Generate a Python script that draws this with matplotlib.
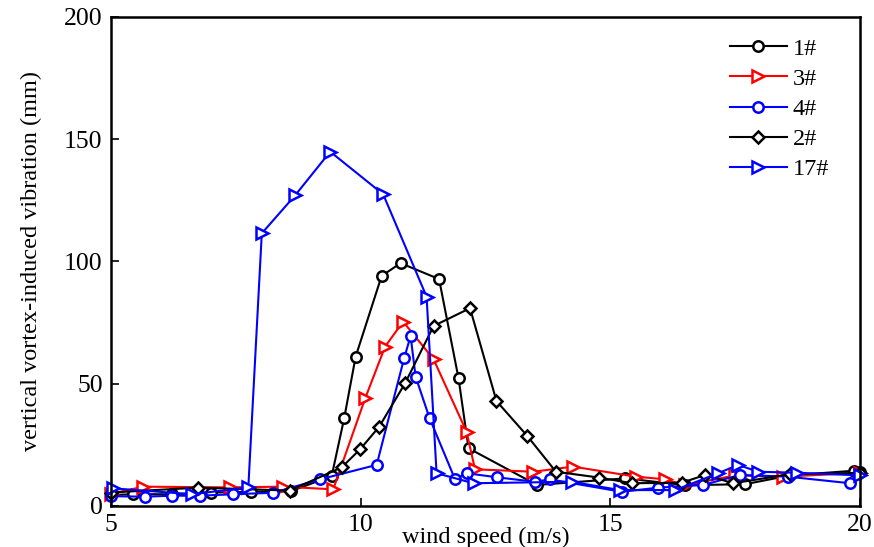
import matplotlib
matplotlib.use("Agg")
import matplotlib.pyplot as plt

plt.rcParams['font.family'] = ['Liberation Serif', 'DejaVu Serif']

# wind speed (m/s) and vertical vortex-induced vibration (mm) per series
x1 = [5.0, 5.45, 6.22, 7.0, 7.8, 8.6, 9.42, 9.67, 9.90, 10.42, 10.80, 11.57, 11.96, 12.16,
      13.53, 15.30, 16.5, 17.70, 18.6, 19.87, 20.0]
y1 = [4.5, 4.8, 4.8, 5.5, 5.8, 6.0, 12.3, 35.9, 61.1, 94.1, 99.3, 92.8, 52.2, 23.6,
      8.6, 11.3, 8.5, 8.9, 12.5, 14.4, 14.0]

x3 = [5.0, 5.65, 7.38, 8.45, 9.45, 10.09, 10.49, 10.85, 11.46, 12.12, 12.29, 13.46,
      14.25, 15.51, 16.10, 16.5, 17.5, 18.46, 20.0]
y3 = [5.0, 7.9, 7.6, 7.9, 6.8, 44.0, 65.2, 75.4, 60.0, 30.4, 15.0, 14.0,
      16.1, 12.0, 10.9, 8.5, 12.5, 12.0, 13.5]

x4 = [5.0, 5.68, 6.22, 6.78, 7.45, 8.25, 9.19, 10.32, 10.87, 11.0, 11.10, 11.38, 11.89,
      12.12, 12.74, 13.49, 13.79, 15.23, 15.96, 16.86, 17.60, 18.55, 19.80]
y4 = [4.0, 3.8, 4.2, 4.2, 4.8, 5.4, 10.9, 16.8, 60.4, 69.5, 52.9, 35.9, 10.9,
      13.4, 11.7, 9.9, 10.9, 5.8, 7.5, 8.6, 12.7, 12.0, 9.3]

x2 = [5.0, 6.75, 8.58, 9.62, 9.99, 10.37, 10.89, 11.46, 12.19, 12.72, 13.33, 13.91,
      14.78, 15.43, 16.43, 16.90, 17.46, 18.6, 20.0]
y2 = [5.5, 7.5, 6.3, 15.8, 23.2, 32.4, 50.2, 73.6, 80.9, 42.9, 28.8, 14.0,
      11.6, 9.3, 9.5, 12.7, 9.3, 13.0, 13.5]

x17 = [5.05, 6.62, 7.75, 8.02, 8.69, 9.39, 10.45, 11.32, 11.52, 12.26, 14.23, 15.19,
       16.30, 17.16, 17.56, 17.96, 18.73, 20.0]
y17 = [7.2, 4.8, 7.6, 111.5, 127.1, 144.9, 127.5, 85.6, 13.4, 9.3, 9.9, 6.5,
       6.5, 13.4, 16.8, 14.0, 13.6, 12.5]

series = [
    (x1, y1, 'k', 'o', '1#'),
    (x3, y3, 'r', '>', '3#'),
    (x4, y4, 'b', 'o', '4#'),
    (x2, y2, 'k', 'D', '2#'),
    (x17, y17, 'b', '>', '17#'),
]

fig = plt.figure(figsize=(8.74, 5.47), dpi=100)
ax = fig.add_axes([0.127, 0.075, 0.857, 0.894])

for xs, ys, c, m, lab in series:
    ms = {'o': 7.5, '>': 8.5, 'D': 6.2}[m]
    ax.plot(xs, ys, color=c, marker=m, markersize=ms, markerfacecolor='white',
            markeredgecolor=c, markeredgewidth=1.8, linewidth=1.5, label=lab,
            clip_on=False)

ax.set_xlim(5, 20)
ax.set_ylim(0, 200)
ax.set_xticks([5, 10, 15, 20])
ax.set_yticks([0, 50, 100, 150, 200])
ax.tick_params(direction='in', length=6, width=1.2, labelsize=18.5)
ax.tick_params(axis='x', pad=6)
ax.tick_params(axis='y', pad=6)
for s in ax.spines.values():
    s.set_linewidth(1.8)

ax.set_xlabel('wind speed (m/s)', fontsize=17.5, labelpad=-7)
ax.set_ylabel('vertical vortex-induced vibration (mm)', fontsize=17.5, labelpad=16)

ax.legend(loc='upper left', frameon=False, fontsize=17.5, handlelength=2.35,
          labelspacing=0.33, handletextpad=0.25, borderaxespad=0,
          bbox_to_anchor=(0.813, 0.977))

fig.savefig('out.png', dpi=100)
